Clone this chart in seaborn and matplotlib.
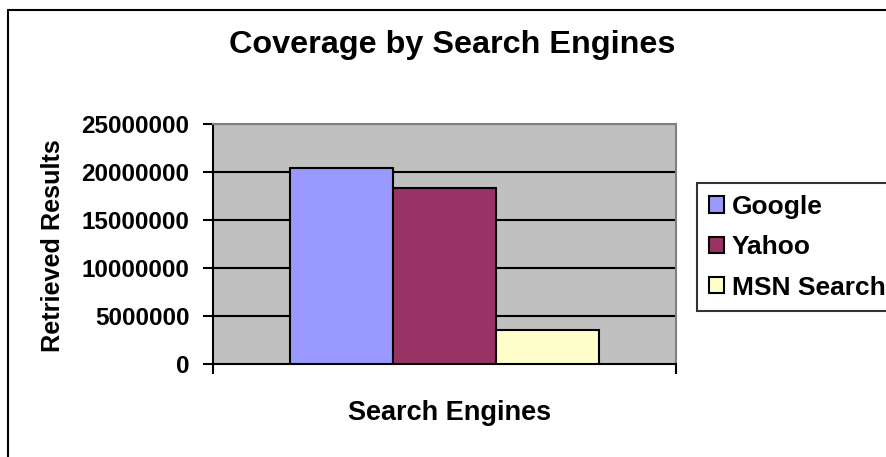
import matplotlib
matplotlib.use("Agg")
import matplotlib.pyplot as plt
from matplotlib.lines import Line2D
from matplotlib.patches import Patch
import pandas as pd
import seaborn as sns

engines = ["Google", "Yahoo", "MSN Search"]
results = [20380000, 18290000, 3510000]
colors = ["#9999FF", "#993366", "#FFFFCC"]
y_ticks = [0, 5000000, 10000000, 15000000, 20000000, 25000000]

df = pd.DataFrame({"group": ["all"] * 3, "Engine": engines, "Results": results})

sns.set_style("white")
plt.rcParams["font.family"] = ["Liberation Sans", "DejaVu Sans"]
plt.rcParams["font.weight"] = "bold"
plt.rcParams["text.color"] = "black"
plt.rcParams["xtick.color"] = "black"
plt.rcParams["ytick.color"] = "black"

W, H = 887, 457
fig = plt.figure(figsize=(W / 100, H / 100), dpi=100)
ax = fig.add_axes([213 / W, 1 - 364 / H, (676 - 213) / W, (364 - 124) / H])
ax.set_facecolor("#C0C0C0")

sns.barplot(data=df, x="group", y="Results", hue="Engine", hue_order=engines,
            palette=colors, saturation=1, width=0.667, edgecolor="black",
            linewidth=1.5, legend=False, ax=ax, zorder=3)

ax.set_xlim(-0.5, 0.5)
ax.set_ylim(0, 25000000)
ax.set_yticks(y_ticks)
ax.set_yticklabels([str(v) for v in y_ticks], fontsize=17.5, fontweight="bold")
for v in y_ticks[1:]:
    ax.axhline(v, color="black", lw=1.5, zorder=1)
ax.tick_params(axis="y", direction="out", length=7, width=1.5, color="black", pad=10, left=True)
ax.set_xticks([-0.5, 0.5])
ax.set_xticklabels(["", ""])
ax.tick_params(axis="x", direction="out", length=7, width=1.5, color="black", bottom=True)

for side in ["left", "bottom"]:
    ax.spines[side].set_color("black")
    ax.spines[side].set_linewidth(1.5)
for side in ["top", "right"]:
    ax.spines[side].set_color("#808080")
    ax.spines[side].set_linewidth(1.5)

ax.set_xlabel("")
ax.set_ylabel("")
fig.text(452 / W, 1 - 53 / H, "Coverage by Search Engines", ha="center", va="baseline",
         fontsize=23.3, fontweight="bold")
fig.text(450 / W, 1 - 420 / H, "Search Engines", ha="center", va="baseline",
         fontsize=19.5, fontweight="bold")
fig.text(53 / W, 1 - 246 / H, "Retrieved Results", ha="center", va="center",
         rotation=90, fontsize=18.2, fontweight="bold")

handles = [Patch(facecolor=c, edgecolor="black", linewidth=1.5) for c in colors]
leg = fig.legend(handles, engines, loc="upper left", bbox_to_anchor=(697 / W, 1 - 183 / H),
                 fontsize=19, frameon=True, fancybox=False, handlelength=0.57,
                 handleheight=0.57, handletextpad=0.3, labelspacing=0.62,
                 borderpad=0.45, borderaxespad=0)
leg.get_frame().set_edgecolor("black")
leg.get_frame().set_linewidth(1.5)
for t in leg.get_texts():
    t.set_fontweight("bold")

# outer chart border (cut off at the right and bottom)
fig.add_artist(Line2D([8 / W, 8 / W], [1 - 10 / H, -0.1], color="black", lw=1.5))
fig.add_artist(Line2D([8 / W, 1.1], [1 - 10 / H, 1 - 10 / H], color="black", lw=1.5))

fig.savefig("out.png", dpi=100)
